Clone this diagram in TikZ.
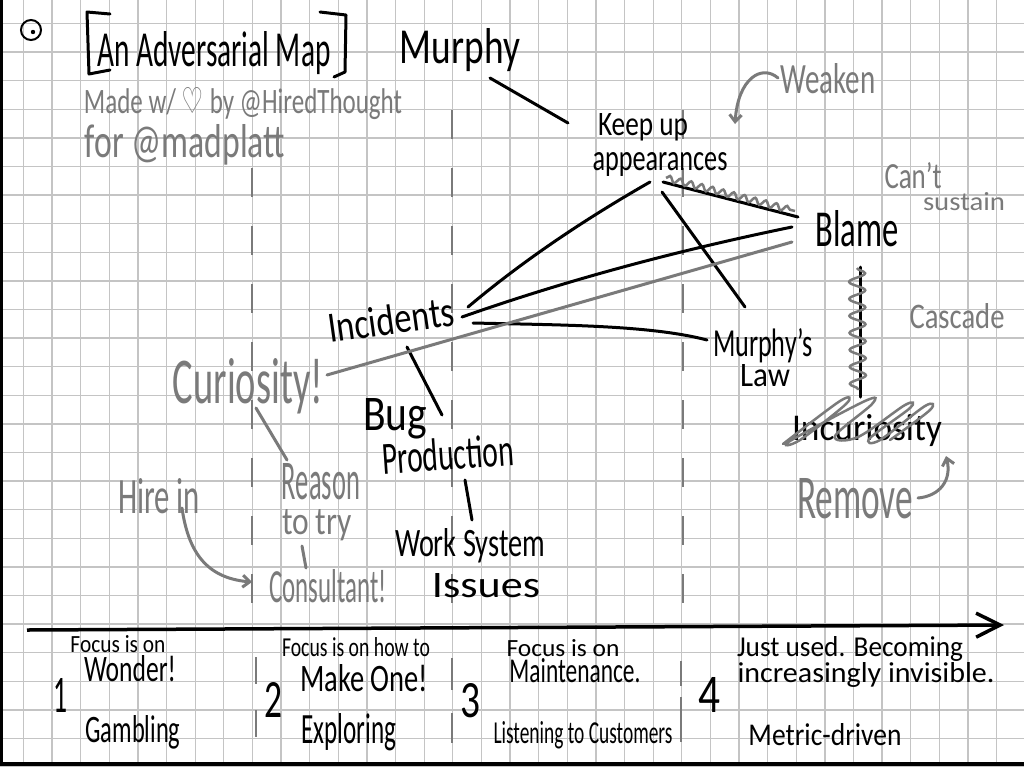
\documentclass[tikz,border=0pt]{standalone}
\usepackage{fontspec}
\setmainfont{Carlito}
\newfontfamily\symf{DejaVu Sans}
\usetikzlibrary{calc,arrows.meta,decorations.pathmorphing}
\definecolor{hgray}{RGB}{122,122,122}
\definecolor{gridc}{RGB}{196,196,196}
\newcommand{\hb}[3]{\resizebox{#1pt}{#2pt}{#3}}
\begin{document}
\begin{tikzpicture}[x=1pt,y=-1pt,
  txt/.style={inner sep=0pt, anchor=base, text=black},
  gtxt/.style={inner sep=0pt, anchor=base, text=hgray},
  link/.style={line width=3pt, line cap=round, line join=round, black},
  glink/.style={line width=3pt, line cap=round, line join=round, hgray},
  gridline/.style={gridc, line width=1.3pt},
  stagesep/.style={hgray, line width=2.5pt},
  dashline/.style={hgray, line width=2.5pt, dash pattern=on 29pt off 29pt},
  harrow/.style={-{Straight Barb[length=7pt,width=12pt]}},
  gsnake/.style={hgray, line width=2.5pt, decorate, decoration={snake, amplitude=3pt, segment length=11pt}},
  gcoil/.style={hgray, line width=2.5pt, decorate, decoration={snake, amplitude=8pt, segment length=17pt}},
]
\useasboundingbox (0,0) rectangle (1024,766);
\fill[white] (0,0) rectangle (1024,766);
% grid
\foreach \i in {0,...,35} \draw[gridline] ({23.5+28.62*\i},0) -- ({23.5+28.62*\i},766);
\foreach \j in {0,...,26} \draw[gridline] (0,{23.5+28.6*\j}) -- (1024,{23.5+28.6*\j});
% frame strips
\fill[black] (0,0) rectangle (3,766);
\fill[black] (0,762) rectangle (1024,766);

% dashed evolution lines
\draw[dashline] (252,168) -- (252,610);
\draw[dashline] (452,110) -- (452,610);
\draw[dashline] (683,110) -- (683,610);

% dotted circle
\draw[black, line width=2pt] (31,30) circle (10);
\fill[black] (33,32) circle (2.2);

% title
\node[txt] (title) at (214,66) {\hb{233}{35}{An Adversarial Map}};
\draw[link] (110,14) -- (87,12) -- (89,74) -- (110,70);
\draw[link] (320,12) -- (346,15) -- (345,72) -- (334,77);
\node[gtxt] (made) at (243,113) {\hb{318}{26}{Made w/ {\symf ♡} by @HiredThought}};
\node[gtxt] (for) at (185,157) {\hb{200}{33}{for @madplatt}};

% map nodes
\node[txt] (murphy) at (460,63) {\hb{120}{35}{Murphy}};
\node[txt] (kua1) at (643,135) {\hb{90}{22}{Keep up}};
\node[txt] (kua2) at (660,170) {\hb{135}{18}{appearances}};
\node[txt] (blame) at (857,246) {\hb{83}{36}{Blame}};
\node[txt, rotate=8] (inc) at (393,334) {\hb{127}{30}{Incidents}};
\node[txt] (mur1) at (763,356) {\hb{100}{28}{Murphy's}};
\node[txt] (mur2) at (765,386) {\hb{50}{22}{Law}};
\node[txt] (bug) at (395,430) {\hb{64}{32}{Bug}};
\node[txt, rotate=4] (prod) at (449,470) {\hb{132}{32}{Production}};
\node[txt] (ws) at (470,556) {\hb{150}{28}{Work System}};
\node[txt] (iss) at (486,597) {\hb{108}{24}{Issues}};
\node[txt] (incur) at (867,440) {\hb{150}{26}{Incuriosity}};

% gray annotations
\node[gtxt] (weaken) at (828,93) {\hb{95}{30}{Weaken}};
\node[gtxt] (cant) at (913,188) {\hb{57}{26}{Can't}};
\node[gtxt] (sustain) at (964,210) {\hb{82}{18}{sustain}};
\node[gtxt] (cascade) at (957,328) {\hb{95}{25}{Cascade}};
\node[gtxt] (remove) at (855,518) {\hb{116}{40}{Remove}};
\node[gtxt] (cur) at (248,403) {\hb{150}{45}{Curiosity!}};
\node[gtxt] (reason) at (321,499) {\hb{78}{36}{Reason}};
\node[gtxt] (totry) at (317,534) {\hb{70}{25}{to try}};
\node[gtxt] (cons) at (328,602) {\hb{117}{33}{Consultant!}};
\node[gtxt] (hire) at (159,513) {\hb{82}{35}{Hire in}};

% black connectors
\draw[link] ($(murphy.base)+(30,15)$) -- ($(kua1.base)+(-75,-12)$);
\draw[link] ($(kua2.base)+(-10,12)$) .. controls (587,218) and (525,259) .. ($(inc.base)+(75,-27)$);
\draw[link] ($(kua2.base)+(2,22)$) -- ($(mur1.base)+(-18,-49)$);
\draw[link] ($(kua2.base)+(3,12)$) -- ($(blame.base)+(-59,-29)$);
\draw[gsnake] ($(kua2.base)+(6,8)$) -- ($(blame.base)+(-62,-35)$);
\draw[link] ($(inc.base)+(69,-17)$) .. controls (570,279) and (680,250) .. ($(blame.base)+(-65,-19)$);
\draw[link] ($(inc.base)+(80,-11)$) .. controls (560,325) and (650,325) .. ($(mur1.base)+(-56,-16)$);
\draw[link] ($(inc.base)+(14,13)$) -- ($(bug.base)+(47,-15)$);
\draw[link] ($(prod.base)+(16,10)$) -- ($(ws.base)+(2,-36)$);
\draw[link] ($(blame.base)+(3,21)$) -- ($(incur.base)+(-7,-43)$);
\draw[gcoil] ($(blame.base)+(0,22)$) -- ($(incur.base)+(-9,-50)$);

% scribble over Incuriosity
\draw[hgray, line width=2.5pt, line cap=round] plot[smooth, tension=0.6] coordinates {(783,444) (840,401) (846,404) (800,440) (790,441) (865,401) (872,404) (835,436) (858,437) (905,405) (910,408) (870,438) (880,440) (925,406) (930,410) (890,440)};

% gray connectors
\draw[glink] ($(cur.base)+(79,-28)$) -- ($(blame.base)+(-65,-4)$);
\draw[glink] ($(reason.base)+(-34,-39)$) -- ($(cur.base)+(8,5)$);
\draw[glink] ($(totry.base)+(-15,12)$) -- ($(cons.base)+(-22,-34)$);
\draw[glink, harrow] ($(hire.base)+(23,-5)$) .. controls (188,550) and (205,578) .. ($(cons.base)+(-76,-20)$);
\coordinate (wkend) at (735,124);
\draw[glink, harrow] ($(weaken.base)+(-50,-15)$) .. controls (762,64) and (738,78) .. (wkend);
\coordinate (rmend) at (946,456);
\draw[glink, harrow] ($(remove.base)+(63,-20)$) .. controls (940,496) and (952,480) .. (rmend);

% evolution axis
\coordinate (axs) at (27,630);
\coordinate (axe) at (1004,625);
\draw[black, line width=3.5pt, -{Straight Barb[length=24pt,width=24pt]}] (axs) -- (axe);

% stage separators
\draw[stagesep] (256,657) -- (256,684) (256,710) -- (256,737);
\draw[stagesep] (452,658) -- (452,690) (452,713) -- (452,743);
\draw[stagesep] (681,661) -- (681,686) (681,697) -- (681,742);

% stage labels
\node[txt] (n1) at (60,712) {\hb{14}{34}{1}};
\node[txt] (f1) at (118,652) {\hb{95}{17}{Focus is on}};
\node[txt] (wonder) at (130,681) {\hb{92}{26}{Wonder!}};
\node[txt] (gamb) at (133,742) {\hb{95}{27}{Gambling}};
\node[txt] (n2) at (273,717) {\hb{18}{35}{2}};
\node[txt] (f2) at (356,656) {\hb{148}{19}{Focus is on how to}};
\node[txt] (make) at (364,691) {\hb{128}{27}{Make One!}};
\node[txt] (expl) at (349,743) {\hb{95}{30}{Exploring}};
\node[txt] (n3) at (470,717) {\hb{20}{34}{3}};
\node[txt] (f3) at (563,656) {\hb{113}{17}{Focus is on}};
\node[txt] (maint) at (575,682) {\hb{131}{24}{Maintenance.}};
\node[txt] (listen) at (583,743) {\hb{179}{22}{Listening to Customers}};
\node[txt] (n4) at (709,712) {\hb{22}{35}{4}};
\node[txt] (just) at (850,656) {\hb{226}{20}{Just used. Becoming}};
\node[txt] (incr) at (866,682) {\hb{257}{20}{increasingly invisible.}};
\node[txt] (metric) at (825,745) {\hb{153}{22}{Metric-driven}};
\end{tikzpicture}
\end{document}
